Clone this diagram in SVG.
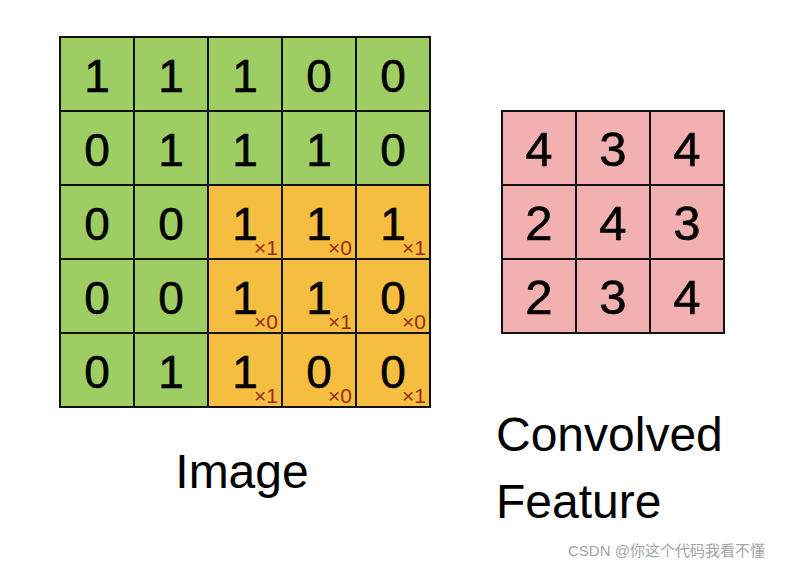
<svg xmlns="http://www.w3.org/2000/svg" width="785" height="568" viewBox="0 0 785 568">
<style>
.g{fill:#9dcd63}
.o{fill:#f5be41}
.p{fill:#f2b0b0}
.ln{stroke:#111;stroke-width:2;fill:none}
.d{font-family:"Liberation Sans",Arial,sans-serif;font-size:46px;fill:#000;stroke:#000;stroke-width:0.6;text-anchor:middle}
.dp{font-family:"Liberation Sans",Arial,sans-serif;font-size:49px;fill:#000;stroke:#000;stroke-width:0.6;text-anchor:middle}
.s{font-family:"Liberation Sans",Arial,sans-serif;font-size:21px;fill:#9b2c14;text-anchor:end}
.lab{font-family:"Liberation Sans",Arial,sans-serif;font-size:48px;fill:#000}
.wm{font-family:"Liberation Sans","Noto Sans CJK SC",sans-serif;font-size:15px;fill:#a3a3a3}
</style>
<rect width="785" height="568" fill="#fff"/>
<g id="image">
<rect class="g" x="60" y="37" width="370" height="370"/>
<rect class="o" x="208" y="185" width="222" height="222"/>
<path class="ln" d="M60 37H430V407H60Z M134 37V407 M208 37V407 M282 37V407 M356 37V407 M60 111H430 M60 185H430 M60 259H430 M60 333H430"/>
<g>
<text class="d" x="97" y="92">1</text><text class="d" x="171" y="92">1</text><text class="d" x="245" y="92">1</text><text class="d" x="319" y="92">0</text><text class="d" x="393" y="92">0</text>
<text class="d" x="97" y="166">0</text><text class="d" x="171" y="166">1</text><text class="d" x="245" y="166">1</text><text class="d" x="319" y="166">1</text><text class="d" x="393" y="166">0</text>
<text class="d" x="97" y="240">0</text><text class="d" x="171" y="240">0</text><text class="d" x="245" y="240">1</text><text class="d" x="319" y="240">1</text><text class="d" x="393" y="240">1</text>
<text class="d" x="97" y="314">0</text><text class="d" x="171" y="314">0</text><text class="d" x="245" y="314">1</text><text class="d" x="319" y="314">1</text><text class="d" x="393" y="314">0</text>
<text class="d" x="97" y="388">0</text><text class="d" x="171" y="388">1</text><text class="d" x="245" y="388">1</text><text class="d" x="319" y="388">0</text><text class="d" x="393" y="388">0</text>
</g>
<g>
<text class="s" x="278" y="255">×1</text><text class="s" x="352" y="255">×0</text><text class="s" x="426" y="255">×1</text>
<text class="s" x="278" y="329">×0</text><text class="s" x="352" y="329">×1</text><text class="s" x="426" y="329">×0</text>
<text class="s" x="278" y="403">×1</text><text class="s" x="352" y="403">×0</text><text class="s" x="426" y="403">×1</text>
</g>
<text class="lab" x="242" y="488" text-anchor="middle">Image</text>
</g>
<g id="convolved">
<rect class="p" x="502" y="111" width="222" height="222"/>
<path class="ln" d="M502 111H724V333H502Z M576 111V333 M650 111V333 M502 185H724 M502 259H724"/>
<text class="dp" x="539" y="166">4</text><text class="dp" x="613" y="166">3</text><text class="dp" x="687" y="166">4</text>
<text class="dp" x="539" y="240">2</text><text class="dp" x="613" y="240">4</text><text class="dp" x="687" y="240">3</text>
<text class="dp" x="539" y="314">2</text><text class="dp" x="613" y="314">3</text><text class="dp" x="687" y="314">4</text>
<text class="lab" x="496" y="451">Convolved</text>
<text class="lab" x="496" y="518">Feature</text>
</g>
<text class="wm" x="568" y="556">CSDN @你这个代码我看不懂</text>
</svg>
